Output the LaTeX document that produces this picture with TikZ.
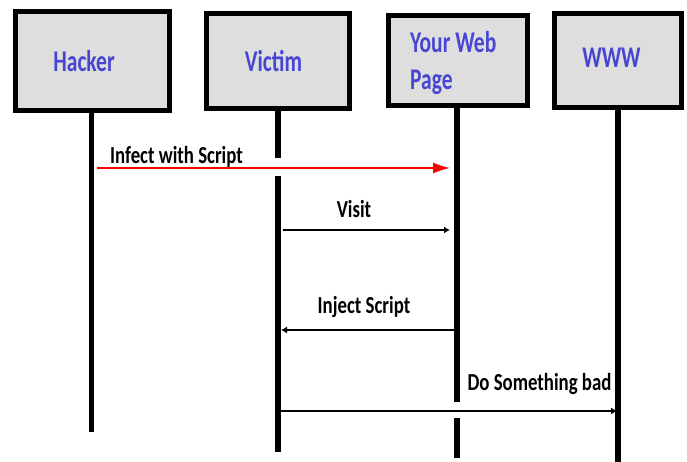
\documentclass[tikz,border=0pt]{standalone}
\usepackage{fontspec}
\setmainfont{Carlito}
\usetikzlibrary{arrows.meta}
\definecolor{boxfill}{HTML}{DEDEDE}
\definecolor{actorblue}{HTML}{4646D2}
\definecolor{msgred}{HTML}{FF0000}
\newcommand{\actortext}[1]{\scalebox{1}[1.4]{\fontsize{21.5}{24}\selectfont\bfseries #1}}
\newcommand{\msgtext}[1]{\scalebox{1}[1.3]{\fontsize{18.8}{22}\selectfont\bfseries #1}}
\begin{document}
\begin{tikzpicture}[x=1pt,y=-1pt,
  actor/.style={draw=black,line width=5pt,fill=boxfill,inner sep=0pt},
  actorlabel/.style={text=actorblue,inner sep=0pt,anchor=base},
  lifeline/.style={line width=5.5pt,black},
  msg/.style={line width=1.3pt,black,-{Latex[length=6pt,width=7pt]}},
  attack/.style={line width=1.5pt,msgred,-{Latex[length=17pt,width=11pt]}},
  msglabel/.style={inner sep=0pt,anchor=base}]
\useasboundingbox (0,0) rectangle (687,462);

% actor boxes
\node[actor,minimum width=154pt,minimum height=99pt] (hacker) at (92.5,61) {};
\node[actor,minimum width=143pt,minimum height=95pt] (victim) at (278,61) {};
\node[actor,minimum width=139pt,minimum height=90pt] (web) at (458,60.5) {};
\node[actor,minimum width=127pt,minimum height=94pt] (www) at (618,60.5) {};

% actor names
\node[actorlabel] (hackerlbl) at (84,72) {\actortext{Hacker}};
\node[actorlabel] (victimlbl) at (273.5,72) {\actortext{Victim}};
\node[actorlabel,anchor=base west] (weblbl1) at (410,53) {\actortext{Your Web}};
\node[actorlabel,anchor=base west] (weblbl2) at (410,90) {\actortext{Page}};
\node[actorlabel] (wwwlbl) at (611.5,68) {\actortext{WWW}};

% lifeline end points and gaps
\coordinate (hackerend) at (91.5,432);
\coordinate (victimgapA) at (278,158);
\coordinate (victimgapB) at (278,176);
\coordinate (victimend) at (278,452);
\coordinate (webgapA) at (457,402);
\coordinate (webgapB) at (457,418);
\coordinate (webend) at (457,458);
\coordinate (wwwend) at (618,462);

% lifelines
\draw[lifeline] (hacker.south -| hackerend) -- (hackerend);
\draw[lifeline] (victim.south) -- (victimgapA);
\draw[lifeline] (victimgapB) -- (victimend);
\draw[lifeline] (web.south -| webend) -- (webgapA);
\draw[lifeline] (webgapB) -- (webend);
\draw[lifeline] (www.south) -- (wwwend);

% messages
\coordinate (m1a) at (97,168);   \coordinate (m1b) at (450,168);
\coordinate (m2a) at (283,230);  \coordinate (m2b) at (450,230);
\coordinate (m3a) at (457,330);  \coordinate (m3b) at (281,330);
\coordinate (m4a) at (280,411);  \coordinate (m4b) at (617,411);

\draw[attack] (m1a) -- (m1b);
\draw[msg] (m2a) -- (m2b);
\draw[msg] (m3a) -- (m3b);
\draw[msg] (m4a) -- (m4b);

\node[msglabel] (m1lbl) at (176.5,164) {\msgtext{Infect with Script}};
\node[msglabel] (m2lbl) at (354,218) {\msgtext{Visit}};
\node[msglabel] (m3lbl) at (364,313) {\msgtext{Inject Script}};
\node[msglabel] (m4lbl) at (539.5,390) {\msgtext{Do Something bad}};
\end{tikzpicture}
\end{document}
